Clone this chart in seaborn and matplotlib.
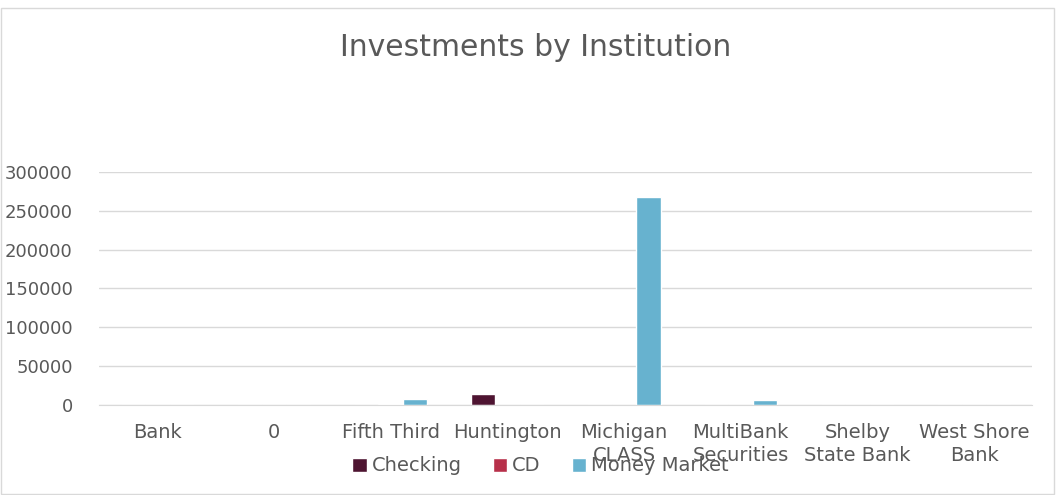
import pandas as pd
import seaborn as sns
import matplotlib.pyplot as plt
from matplotlib.patches import Rectangle

institutions = ["Bank", "0", "Fifth Third", "Huntington", "Michigan\nCLASS",
                "MultiBank\nSecurities", "Shelby\nState Bank", "West Shore\nBank"]
checking = [0, 0, 0, 13500, 0, 0, 0, 0]
cd = [0, 0, 800, 0, 0, 0, 0, 0]
money_market = [0, 0, 7500, 0, 268000, 6000, 0, 0]
series_names = ["Checking", "CD", "Money Market"]
colors = ["#4E1431", "#B7304A", "#67B2CF"]
yticks = [0, 50000, 100000, 150000, 200000, 250000, 300000]

df = pd.DataFrame({
    "Institution": institutions * 3,
    "Type": [s for s in series_names for _ in institutions],
    "Amount": checking + cd + money_market,
})

sns.set_style("white")
plt.rcParams["font.family"] = ["DejaVu Sans"]
text_color = "#595959"

fig = plt.figure(figsize=(10.57, 4.95), dpi=100)
ax = fig.add_axes([0.0937, 0.182, 0.883, 0.4705])

sns.barplot(data=df, x="Institution", y="Amount", hue="Type",
            palette=colors, width=0.63, saturation=1, ax=ax)

ax.set_ylim(0, 300000)
ax.set_yticks(yticks)
ax.set_yticklabels([str(v) for v in yticks])
ax.set_xlim(-0.5, len(institutions) - 0.5)
ax.yaxis.grid(True, color="#D9D9D9", linewidth=1)
ax.set_axisbelow(True)
for side in ["top", "right", "left"]:
    ax.spines[side].set_visible(False)
ax.spines["bottom"].set_color("#D9D9D9")
ax.tick_params(axis="both", length=0, labelcolor=text_color)
ax.tick_params(axis="x", pad=13, labelsize=14)
ax.tick_params(axis="y", pad=19, labelsize=13)
for lbl in ax.get_xticklabels():
    lbl.set_linespacing(1.3)
ax.set_xlabel("")
ax.set_ylabel("")

leg = ax.legend(loc="center", bbox_to_anchor=(0.473, -0.262), ncol=3, frameon=False,
                fontsize=14, handlelength=0.75, handleheight=0.75,
                handletextpad=0.25, columnspacing=1.6)
for t in leg.get_texts():
    t.set_color(text_color)

fig.text(0.507, 0.905, "Investments by Institution", ha="center", va="center",
         fontsize=21.5, color=text_color)

fig.patches.append(Rectangle((0.001, 0.003), 0.996, 0.98, transform=fig.transFigure,
                             fill=False, edgecolor="#D9D9D9", linewidth=1))

fig.savefig("out.png", dpi=100)
